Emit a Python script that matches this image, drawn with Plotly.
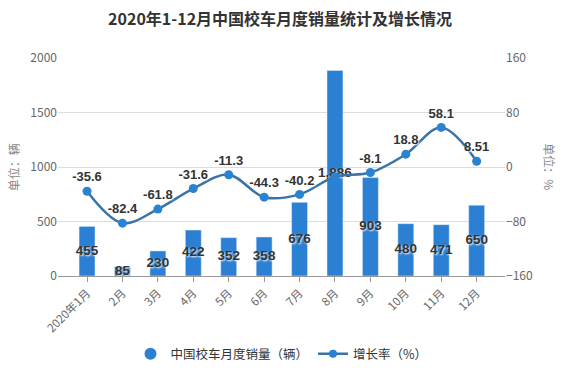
import plotly.graph_objects as go

months = ["2020年1月", "2月", "3月", "4月", "5月", "6月", "7月", "8月", "9月", "10月", "11月", "12月"]
sales = [455, 85, 230, 422, 352, 358, 676, 1886, 903, 480, 471, 650]
growth = [-35.6, -82.4, -61.8, -31.6, -11.3, -44.3, -40.2, -14.3, -8.1, 18.8, 58.1, 8.51]
growth_labels = ["-35.6", "-82.4", "-61.8", "-31.6", "-11.3", "-44.3", "-40.2", "", "-8.1", "18.8", "58.1", "8.51"]
sales_labels = [f"{v:,}" for v in sales]
left_ticks = [0, 500, 1000, 1500, 2000]
right_ticks = [-160, -80, 0, 80, 160]

BAR = "#2b80d4"
LINE = "#3a74a6"
CJK = "Noto Sans CJK SC, sans-serif"
LAB = "Liberation Sans, Arial, sans-serif"

fig = go.Figure()
fig.add_trace(go.Bar(x=months, y=sales, marker_color=BAR, width=0.45,
                     showlegend=False, hoverinfo="skip"))
fig.add_trace(go.Scatter(x=months, y=growth, yaxis="y2", mode="lines+markers+text",
                         line=dict(color=LINE, width=2.5, shape="spline"),
                         marker=dict(color="#2a83d2", size=9),
                         text=growth_labels, textposition="top center",
                         textfont=dict(family=LAB, size=13, color="#333333", weight="bold",
                                       shadow="1px 1px 2px white"),
                         showlegend=False))
fig.add_trace(go.Scatter(x=months, y=[v / 2 for v in sales], mode="text", text=sales_labels,
                         textposition="middle center",
                         textfont=dict(family=LAB, size=13.5, color="#333333", weight="bold",
                                       shadow="1px 1px 2px white"),
                         showlegend=False, hoverinfo="skip"))
# legend entries
fig.add_trace(go.Scatter(x=[None], y=[None], mode="markers", name="中国校车月度销量（辆）",
                         marker=dict(color=BAR, size=12, symbol="circle")))
fig.add_trace(go.Scatter(x=[None], y=[None], mode="lines+markers", name="增长率（%）",
                         line=dict(color=LINE, width=2.5), marker=dict(color="#2a83d2", size=8)))

fig.update_layout(
    width=567, height=378,
    margin=dict(l=58, r=62, t=58, b=102, autoexpand=False),
    paper_bgcolor="white", plot_bgcolor="white",
    font=dict(family=CJK, size=12, color="#666666"),
    title=dict(text="<b>2020年1-12月中国校车月度销量统计及增长情况</b>", x=0.494, xanchor="center",
               y=0.95, yanchor="middle", font=dict(family=CJK, size=16, color="#333333")),
    xaxis=dict(range=[-0.82, 11.8], tickangle=-45, showgrid=False, showline=True, automargin=False,
               linecolor="#999999", ticks="outside", ticklen=5, tickcolor="#999999",
               tickfont=dict(size=11.5, color="#666666")),
    yaxis=dict(range=[0, 2000], tickvals=left_ticks, showgrid=True, gridcolor="#dddddd",
               zeroline=False, showline=False, ticks="", tickfont=dict(size=12, color="#666666"),
               ticksuffix=" ", automargin=False),
    yaxis2=dict(range=[-160, 160], tickvals=right_ticks, overlaying="y", side="right",
                showgrid=False, zeroline=False, showline=False, tickfont=dict(size=12, color="#666666"),
                tickprefix=" ", automargin=False),
    legend=dict(orientation="h", x=0.5, xanchor="center", y=-0.29, yanchor="top",
                font=dict(family=CJK, size=12.5, color="#333333"), itemwidth=30),
    annotations=[
        dict(text="单位：辆", textangle=-90, x=-0.1, y=0.5, xref="paper", yref="paper",
             showarrow=False, font=dict(size=12, color="#888888"), xanchor="center"),
        dict(text="单位：%", textangle=90, x=1.1, y=0.5, xref="paper", yref="paper",
             showarrow=False, font=dict(size=12, color="#888888"), xanchor="center"),
    ],
)
fig.write_html("out.html", config={"displayModeBar": False},
               post_script="document.body.style.margin='0';")
